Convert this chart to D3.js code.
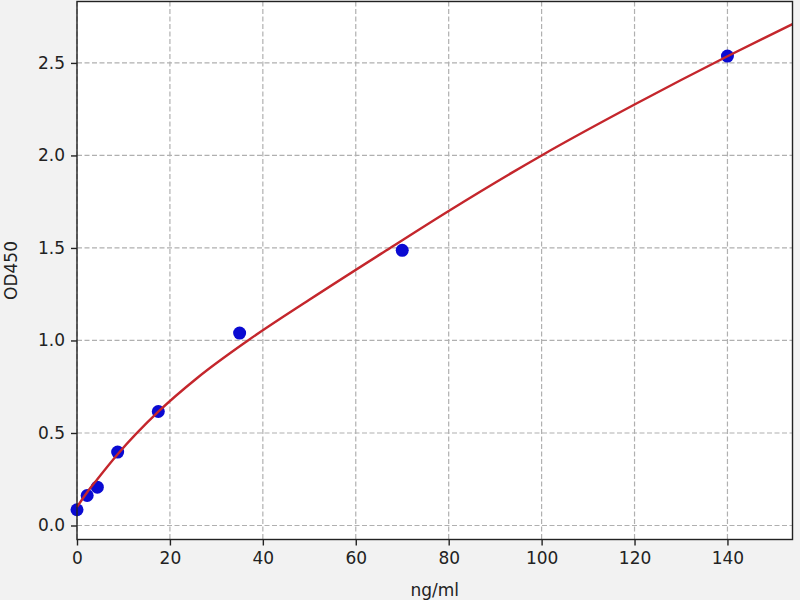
<!DOCTYPE html>
<html>
<head>
<meta charset="utf-8">
<script src="https://cdn.jsdelivr.net/npm/d3@7"></script>
<style>
  body { margin: 0; background: #f2f2f2; }
  svg { display: block; font-family: "DejaVu Sans", sans-serif; }
</style>
</head>
<body>
<div id="chart"></div>
<script>
// standard points (ng/ml, OD450)
const concs = [0, 2.1875, 4.375, 8.75, 17.5, 35, 70, 140]
const ods = [0.085, 0.162, 0.207, 0.397, 0.616, 1.04, 1.487, 2.537]

// fitted curve
const curveX = [0, 2.19, 4.375, 8.75, 17.5, 26, 36.8, 50, 67.4, 80, 100, 120, 140, 154]
const curveY = [0.10, 0.18, 0.25, 0.385, 0.615, 0.80, 1.0, 1.22, 1.5, 1.70, 2.0, 2.275, 2.536, 2.71]

const xTicks = [0, 20, 40, 60, 80, 100, 120, 140]
const yTicks = [0.0, 0.5, 1.0, 1.5, 2.0, 2.5]

const W = 800, H = 600
const m = { left: 77, top: 1.5, right: 7.5, bottom: 60.5 }
const iw = W - m.left - m.right
const ih = H - m.top - m.bottom

const svg = d3.select("#chart").append("svg")
  .attr("width", W)
  .attr("height", H)

svg.append("rect").attr("width", W).attr("height", H).attr("fill", "#f2f2f2")

const g = svg.append("g").attr("transform", `translate(${m.left},${m.top})`)

const x = d3.scaleLinear().domain([0, 154]).range([0, iw])
const y = d3.scaleLinear().domain([-0.0757, 2.832]).range([ih, 0])

g.append("rect").attr("width", iw).attr("height", ih).attr("fill", "white")

// grid
g.append("g").selectAll("line")
  .data(xTicks)
  .join("line")
  .attr("x1", d => x(d)).attr("x2", d => x(d))
  .attr("y1", 0).attr("y2", ih)
  .attr("stroke", "#b0b0b0").attr("stroke-width", 1.2)
  .attr("stroke-dasharray", "5,2.5")

g.append("g").selectAll("line")
  .data(yTicks)
  .join("line")
  .attr("x1", 0).attr("x2", iw)
  .attr("y1", d => y(d)).attr("y2", d => y(d))
  .attr("stroke", "#b0b0b0").attr("stroke-width", 1.2)
  .attr("stroke-dasharray", "5,2.5")

// points
g.append("g").selectAll("circle")
  .data(concs.map((c, i) => [c, ods[i]]))
  .join("circle")
  .attr("cx", d => x(d[0]))
  .attr("cy", d => y(d[1]))
  .attr("r", 6.5)
  .attr("fill", "#0a0ad2")

// curve
const line = d3.line()
  .x(d => x(d[0]))
  .y(d => y(d[1]))
  .curve(d3.curveMonotoneX)

g.append("path")
  .datum(curveX.map((c, i) => [c, curveY[i]]))
  .attr("d", line)
  .attr("fill", "none")
  .attr("stroke", "#c4262c")
  .attr("stroke-width", 2.4)

// axes
const xAxis = d3.axisBottom(x).tickValues(xTicks).tickFormat(d3.format("d")).tickSize(6).tickPadding(6)
const yAxis = d3.axisLeft(y).tickValues(yTicks).tickFormat(d3.format(".1f")).tickSize(6).tickPadding(6)

const gx = g.append("g").attr("transform", `translate(0,${ih})`).call(xAxis)
const gy = g.append("g").call(yAxis)

;[gx, gy].forEach(a => {
  a.select(".domain").remove()
  a.selectAll("line").attr("stroke", "#222").attr("stroke-width", 1.4)
  a.selectAll("text").attr("fill", "#222").style("font-size", "17px").style("font-family", "DejaVu Sans")
})

// frame
g.append("rect").attr("width", iw).attr("height", ih)
  .attr("fill", "none").attr("stroke", "#222").attr("stroke-width", 1.4)

// labels
svg.append("text")
  .attr("x", m.left + iw / 2)
  .attr("y", 596)
  .attr("text-anchor", "middle")
  .style("font-size", "17px")
  .attr("fill", "#222")
  .text("ng/ml")

svg.append("text")
  .attr("transform", `translate(17,${m.top + ih / 2}) rotate(-90)`)
  .attr("text-anchor", "middle")
  .style("font-size", "17px")
  .attr("fill", "#222")
  .text("OD450")
</script>
</body>
</html>
